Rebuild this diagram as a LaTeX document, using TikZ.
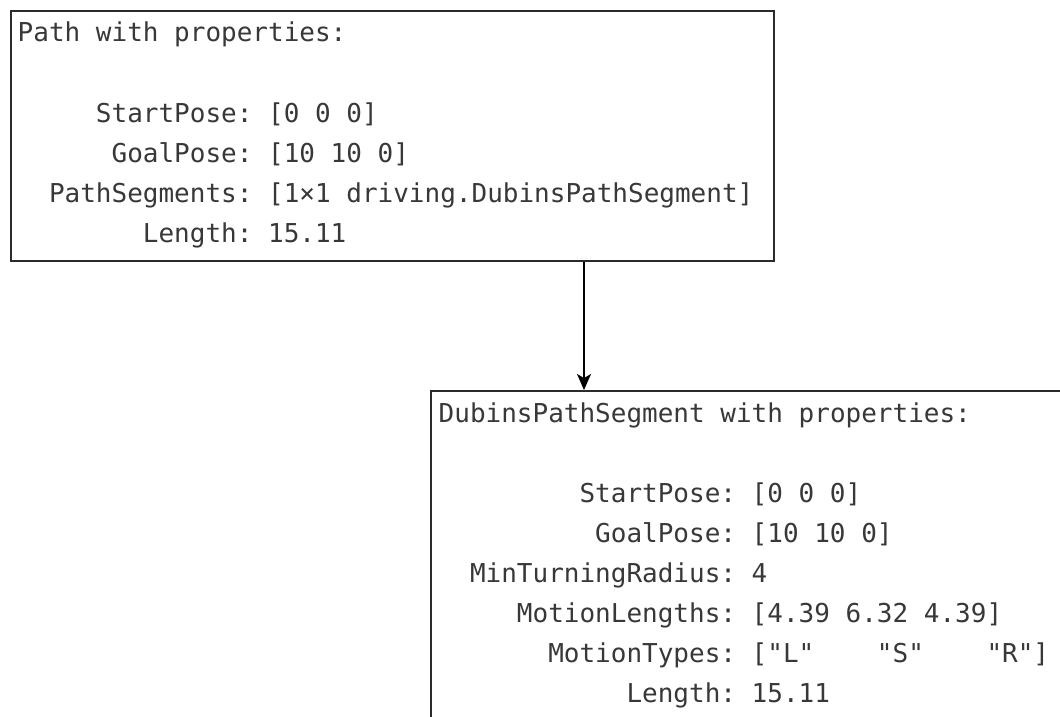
\documentclass[tikz,border=0pt]{standalone}
\usepackage{fontspec}
\setmonofont{DejaVu Sans Mono}
\usetikzlibrary{arrows.meta}
\definecolor{txt}{HTML}{383838}
\definecolor{boxc}{HTML}{2B2B2B}
\begin{document}
\begin{tikzpicture}[x=1pt,y=-1pt,
  box/.style={draw=boxc, line width=2pt, rectangle, inner sep=0pt, anchor=north west},
  code/.style={font=\ttfamily\fontsize{26}{30}\selectfont, text=txt, anchor=base west, inner sep=0pt},
  conn/.style={draw=black, line width=1.4pt, -{Stealth[length=16pt,width=14pt,inset=4pt]}}]
\useasboundingbox[fill=white] (0,0) rectangle (1060,717);
\def\adv{15.65}
% top box
\node[box, minimum width=763pt, minimum height=250pt] (top) at (10,10) {};
\node[code] (t1) at ({17.5+0*\adv},42)  {Path with properties:};
\node[code] (t2) at ({17.5+5*\adv},122) {StartPose: [0 0 0]};
\node[code] (t3) at ({17.5+6*\adv},162) {GoalPose: [10 10 0]};
\node[code] (t4) at ({17.5+2*\adv},202) {PathSegments: [1×1 driving.DubinsPathSegment]};
\node[code] (t5) at ({17.5+8*\adv},242) {Length: 15.11};
% bottom box
\node[box, minimum width=700pt, minimum height=400pt] (bot) at (430,390) {};
\node[code] (b1) at ({438.5+0*\adv},422)  {DubinsPathSegment with properties:};
\node[code] (b2) at ({438.5+9*\adv},502)  {StartPose: [0 0 0]};
\node[code] (b3) at ({438.5+10*\adv},542) {GoalPose: [10 10 0]};
\node[code] (b4) at ({438.5+2*\adv},582)  {MinTurningRadius: 4};
\node[code] (b5) at ({438.5+5*\adv},622)  {MotionLengths: [4.39 6.32 4.39]};
\node[code] (b6) at ({438.5+7*\adv},662)  {MotionTypes: ["L"\ \ \ \ "S"\ \ \ \ "R"]};
\node[code] (b7) at ({438.5+12*\adv},702) {Length: 15.11};
% connector
\coordinate (ax) at (584,0);
\draw[conn] (top.south -| ax) -- (bot.north -| ax);
\end{tikzpicture}
\end{document}
